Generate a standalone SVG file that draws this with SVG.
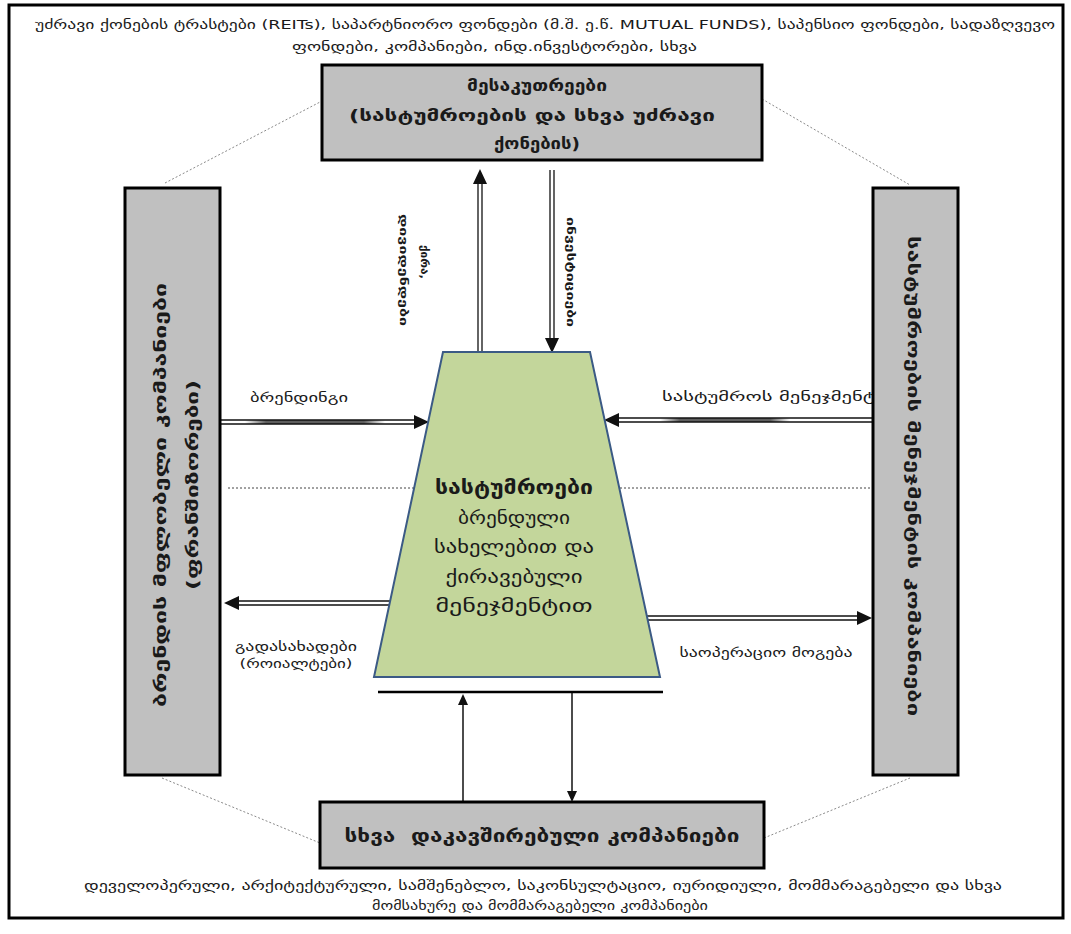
<svg xmlns="http://www.w3.org/2000/svg" xmlns:xlink="http://www.w3.org/1999/xlink" width="1071" height="934" viewBox="0 0 1071 934">
  <style>
    .t { font-family: "DejaVu Sans", "Noto Sans", sans-serif; fill: #1a1a1a; }
    .b { font-weight: bold; }
    .m { text-anchor: middle; }
    .box { fill: #c0c0c0; stroke: #000; stroke-width: 3; }
    .ln { stroke: #111; stroke-width: 1.3; fill: none; }
    .solid { stroke: #111; stroke-width: 1.5; fill: none; }
    .dot { stroke: #8a8a8a; stroke-width: 1; stroke-dasharray: 2 2; fill: none; }
    .hdot { stroke: #444; stroke-width: 1; stroke-dasharray: 2 2; fill: none; }
  </style>
  <defs>
    <!-- arrowheads pointing along +x, tip at the origin -->
    <path id="head" d="M0,0 L-15,-7 L-15,7 Z" fill="#111"/>
    <path id="headS" d="M0,0 L-11,-5 L-11,5 Z" fill="#111"/>
    <linearGradient id="bandL" x1="0" y1="0" x2="1" y2="0">
      <stop offset="0" stop-color="#fff"/>
      <stop offset="0.15" stop-color="#5e5e5e"/>
      <stop offset="0.85" stop-color="#5e5e5e"/>
      <stop offset="1" stop-color="#fff"/>
    </linearGradient>
  </defs>

  <rect width="1071" height="934" fill="#fff"/>
  <!-- outer frame -->
  <rect x="9" y="5" width="1054" height="913" fill="none" stroke="#000" stroke-width="3"/>

  <!-- investor types heading -->
  <g id="investors-note">
    <text class="t" x="35" y="29" font-size="12" textLength="1020" lengthAdjust="spacingAndGlyphs">უძრავი ქონების ტრასტები (REITs), საპარტნიორო ფონდები (მ.შ. ე.წ. MUTUAL FUNDS), საპენსიო ფონდები, სადაზღვევო</text>
    <text class="t" x="292" y="51" font-size="12" textLength="405" lengthAdjust="spacingAndGlyphs">ფონდები, კომპანიები, ინდ.ინვესტორები, სხვა</text>
  </g>

  <!-- connectors -->
  <g id="connectors">
    <!-- dotted frame between the outer boxes -->
    <line class="dot" x1="165" y1="183" x2="322" y2="101"/>
    <line class="dot" x1="762" y1="99" x2="910" y2="185"/>
    <line class="dot" x1="162" y1="778" x2="320" y2="843"/>
    <line class="dot" x1="764" y1="838" x2="910" y2="778"/>
    <line class="hdot" x1="228" y1="488" x2="873" y2="488"/>

    <!-- returns to owners (up) -->
    <line class="ln" x1="478" y1="352" x2="478" y2="182"/>
    <line class="ln" x1="482" y1="352" x2="482" y2="182"/>
    <use xlink:href="#head" transform="translate(480,169) rotate(-90)"/>
    <!-- investments (down) -->
    <line class="ln" x1="550" y1="170" x2="550" y2="340"/>
    <line class="ln" x1="554" y1="170" x2="554" y2="340"/>
    <use xlink:href="#head" transform="translate(552,353) rotate(90)"/>

    <!-- branding (in from the left) -->
    <rect x="245" y="420" width="140" height="4" fill="url(#bandL)"/>
    <line class="ln" x1="220" y1="420" x2="416" y2="420"/>
    <line class="ln" x1="220" y1="424" x2="416" y2="424"/>
    <use xlink:href="#head" transform="translate(429,422)"/>
    <!-- fees / royalties (out to the left) -->
    <line class="ln" x1="390" y1="601" x2="238" y2="601"/>
    <line class="ln" x1="390" y1="605" x2="238" y2="605"/>
    <use xlink:href="#head" transform="translate(224,603) rotate(180)"/>

    <!-- hotel management (in from the right) -->
    <rect x="660" y="418" width="130" height="4" fill="url(#bandL)"/>
    <line class="ln" x1="873" y1="418" x2="617" y2="418"/>
    <line class="ln" x1="873" y1="422" x2="617" y2="422"/>
    <use xlink:href="#head" transform="translate(604,420) rotate(180)"/>
    <!-- operating profit (out to the right) -->
    <line class="ln" x1="647" y1="616" x2="858" y2="616"/>
    <line class="ln" x1="647" y1="620" x2="858" y2="620"/>
    <use xlink:href="#head" transform="translate(872,618)"/>

    <!-- base line and links to affiliated companies -->
    <line x1="378" y1="692" x2="663" y2="692" stroke="#000" stroke-width="2.5"/>
    <line class="solid" x1="463" y1="802" x2="463" y2="704"/>
    <use xlink:href="#headS" transform="translate(463,694) rotate(-90)"/>
    <line class="solid" x1="572" y1="693" x2="572" y2="792"/>
    <use xlink:href="#headS" transform="translate(572,802) rotate(90)"/>
  </g>

  <!-- connector labels -->
  <g id="labels">
    <text class="t b m" font-size="10" transform="translate(424,262) rotate(90)" dominant-baseline="central" textLength="34" lengthAdjust="spacingAndGlyphs">ქირა,</text>
    <text class="t b m" font-size="10" transform="translate(403,270) rotate(90)" dominant-baseline="central" textLength="112" lengthAdjust="spacingAndGlyphs">დივიდენდები</text>
    <text class="t b m" font-size="10" transform="translate(570,272) rotate(90)" dominant-baseline="central" textLength="110" lengthAdjust="spacingAndGlyphs">ინვესტიციები</text>
    <text class="t m" x="299" y="402" font-size="12" textLength="98" lengthAdjust="spacingAndGlyphs">ბრენდინგი</text>
    <text class="t m" x="296" y="651" font-size="12" textLength="122" lengthAdjust="spacingAndGlyphs">გადასახადები</text>
    <text class="t m" x="296" y="668" font-size="12" textLength="113" lengthAdjust="spacingAndGlyphs">(როიალტები)</text>
    <text class="t" x="662" y="401" font-size="12" textLength="225" lengthAdjust="spacingAndGlyphs">სასტუმროს მენეჯმენტი</text>
    <text class="t m" x="766" y="657" font-size="12" textLength="173" lengthAdjust="spacingAndGlyphs">საოპერაციო მოგება</text>
  </g>

  <!-- owners -->
  <g id="owners">
    <rect class="box" x="322" y="65" width="440" height="95"/>
    <text class="t b m" x="537" y="91" font-size="16" textLength="140" lengthAdjust="spacingAndGlyphs">მესაკუთრეები</text>
    <text class="t b m" x="532" y="121" font-size="16" textLength="366" lengthAdjust="spacingAndGlyphs">(სასტუმროების და სხვა უძრავი</text>
    <text class="t b m" x="537" y="149" font-size="16" textLength="86" lengthAdjust="spacingAndGlyphs">ქონების)</text>
  </g>

  <!-- brand owners / franchisors -->
  <g id="franchisors">
    <rect class="box" x="125" y="188" width="95" height="587"/>
    <text class="t b m" font-size="16" transform="translate(160,495) rotate(-90)" dominant-baseline="central" textLength="424" lengthAdjust="spacingAndGlyphs">ბრენდის მფლობელი კომპანიები</text>
    <text class="t b m" font-size="16" transform="translate(192,485) rotate(-90)" dominant-baseline="central" textLength="210" lengthAdjust="spacingAndGlyphs">(ფრანშიზორები)</text>
  </g>

  <!-- hotel management companies -->
  <g id="managers">
    <rect class="box" x="873" y="188" width="85" height="587"/>
    <text class="t b m" font-size="16" transform="translate(913,476) rotate(90)" dominant-baseline="central" textLength="480" lengthAdjust="spacingAndGlyphs">სასტუმროების მენეჯმენტის კომპანიები</text>
  </g>

  <!-- hotels -->
  <g id="hotels">
    <polygon points="443,352 590,352 660,677 374,677" fill="#c3d69b" stroke="#3b5a85" stroke-width="2"/>
    <text class="t b m" x="514" y="494" font-size="20" textLength="158" lengthAdjust="spacingAndGlyphs">სასტუმროები</text>
    <text class="t m" x="514" y="524" font-size="18" textLength="112" lengthAdjust="spacingAndGlyphs">ბრენდული</text>
    <text class="t m" x="514" y="553" font-size="18" textLength="160" lengthAdjust="spacingAndGlyphs">სახელებით და</text>
    <text class="t m" x="514" y="583" font-size="18" textLength="137" lengthAdjust="spacingAndGlyphs">ქირავებული</text>
    <text class="t m" x="514" y="612" font-size="18" textLength="157" lengthAdjust="spacingAndGlyphs">მენეჯმენტით</text>
  </g>

  <!-- affiliated companies -->
  <g id="affiliates">
    <rect class="box" x="320" y="802" width="444" height="66"/>
    <text class="t b m" x="542" y="842" font-size="17" xml:space="preserve" textLength="395" lengthAdjust="spacingAndGlyphs">სხვა  დაკავშირებული კომპანიები</text>
    <text class="t m" x="543" y="890" font-size="12" textLength="918" lengthAdjust="spacingAndGlyphs">დეველოპერული, არქიტექტურული, სამშენებლო, საკონსულტაციო, იურიდიული, მომმარაგებელი და სხვა</text>
    <text class="t m" x="540" y="910" font-size="12" textLength="336" lengthAdjust="spacingAndGlyphs">მომსახურე და მომმარაგებელი კომპანიები</text>
  </g>
</svg>
